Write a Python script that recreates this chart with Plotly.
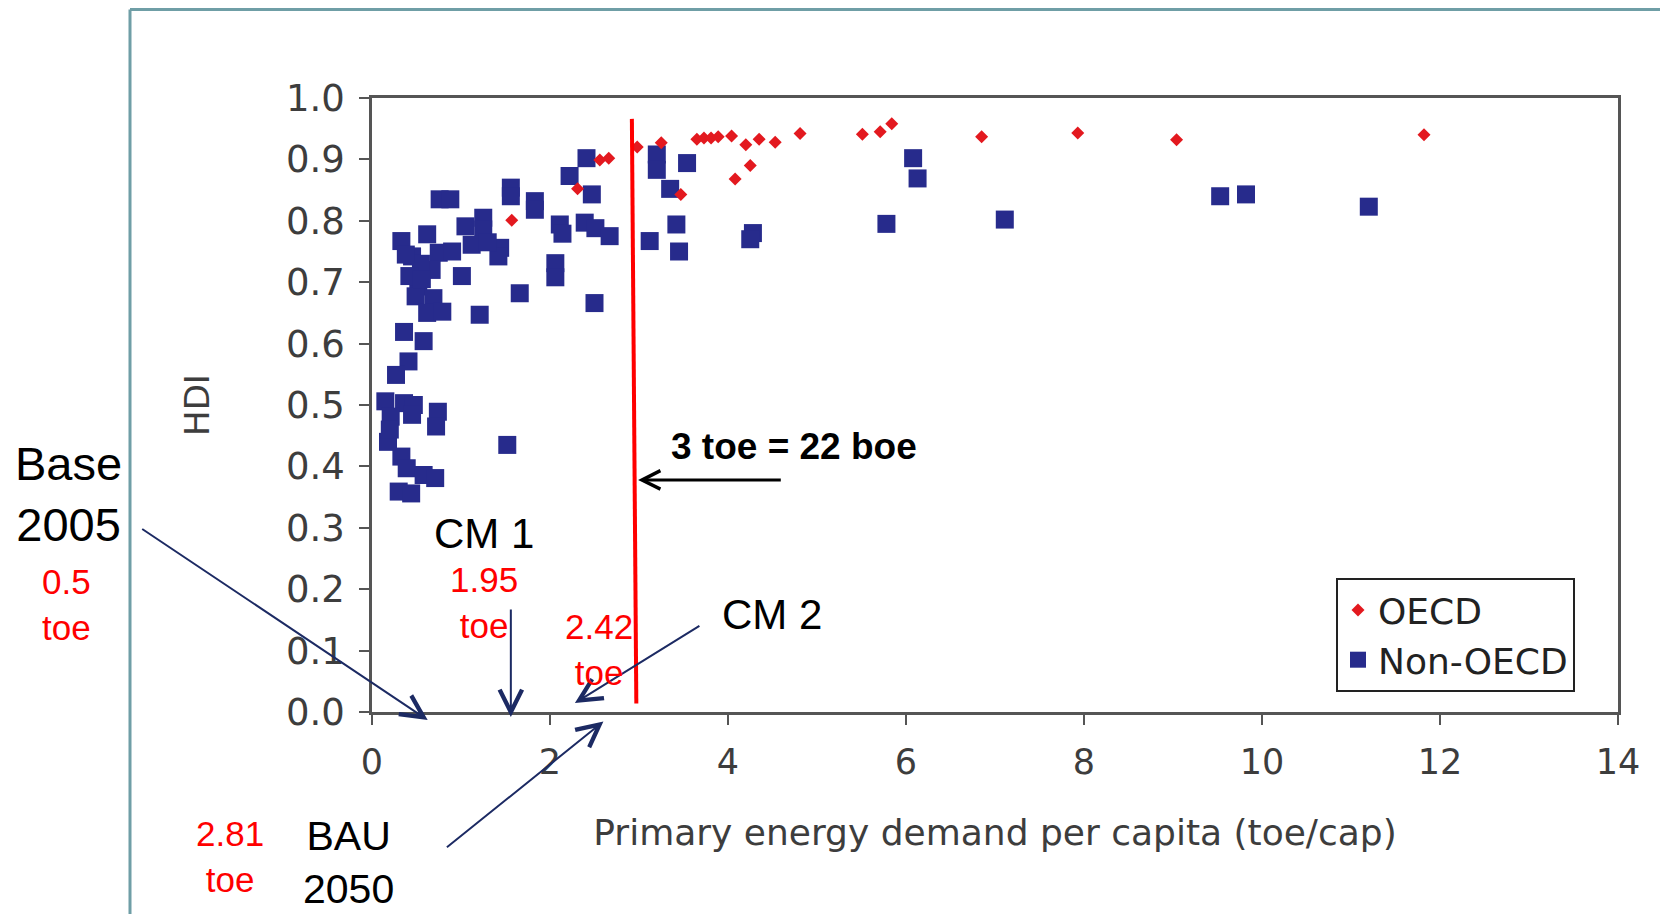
import plotly.graph_objects as go

# ---------------- data ----------------
oecd_x = [1.57, 2.31, 2.56, 2.66, 2.98, 3.25, 3.47, 3.65, 3.73, 3.81, 3.89, 4.04,
          4.20, 4.35, 4.53, 4.08, 4.25, 4.81, 5.51, 5.71, 5.84, 6.85, 7.93, 9.04, 11.82]
oecd_y = [0.801, 0.852, 0.899, 0.902, 0.920, 0.927, 0.843, 0.933, 0.935, 0.935, 0.937, 0.938,
          0.924, 0.933, 0.928, 0.868, 0.890, 0.942, 0.941, 0.945, 0.958, 0.937, 0.943, 0.932, 0.940]

non_oecd_x = [0.76, 0.88, 1.56, 1.56, 0.33, 0.62, 1.05, 1.25, 1.25, 1.44, 1.42, 0.45,
              0.75, 1.12, 0.90, 0.67, 1.01, 0.52, 0.49, 0.69, 0.62, 0.79, 0.36, 0.58,
              0.41, 1.21, 0.27, 1.66, 0.55, 1.30, 0.42, 0.56, 0.38,
              1.83, 1.83, 2.41, 2.22, 2.47, 2.11, 2.14, 2.39, 2.51, 2.67, 2.06, 2.06, 2.50,
              3.20, 3.20, 3.35, 3.54, 3.42, 3.12, 3.45, 4.28, 4.25, 6.08, 6.13, 5.78, 7.11,
              9.53, 9.82, 11.20,
              0.15, 0.36, 0.47, 0.45, 0.21, 0.74, 0.72, 0.18, 0.33, 0.39, 0.58, 0.71,
              0.30, 0.44, 1.52, 0.20]
non_oecd_y = [0.835, 0.835, 0.854, 0.840, 0.767, 0.778, 0.791, 0.805, 0.786, 0.756, 0.742, 0.742,
              0.748, 0.761, 0.750, 0.720, 0.710, 0.693, 0.677, 0.674, 0.650, 0.652, 0.619, 0.604,
              0.571, 0.647, 0.549, 0.682, 0.730, 0.765, 0.710, 0.705, 0.745,
              0.832, 0.818, 0.902, 0.873, 0.843, 0.794, 0.779, 0.797, 0.788, 0.775, 0.731, 0.708, 0.666,
              0.908, 0.883, 0.852, 0.894, 0.794, 0.767, 0.750, 0.780, 0.770, 0.902, 0.869, 0.795, 0.802,
              0.840, 0.843, 0.823,
              0.506, 0.503, 0.500, 0.484, 0.481, 0.489, 0.465, 0.440, 0.416, 0.397, 0.386, 0.381,
              0.359, 0.356, 0.435, 0.460]

x_tick_vals = [0, 2, 4, 6, 8, 10, 12, 14]
y_tick_vals = [0.0, 0.1, 0.2, 0.3, 0.4, 0.5, 0.6, 0.7, 0.8, 0.9, 1.0]

# the hand-drawn "3 toe" limit line (as drawn in the picture)
limit_line_x = [2.92, 2.97]
limit_line_y = [0.966, 0.014]

# scenario labels and where their arrows point on the x axis
scenario_names = ["Base<br>2005", "CM 1", "CM 2", "BAU<br>2050"]
scenario_values = ["0.5<br>toe", "1.95<br>toe", "2.42<br>toe", "2.81<br>toe"]
arrow_tip_x = [0.626, 1.56, 2.28, 2.60]

# ---------------- layout geometry (page pixels) ----------------
W, H = 1668, 914
OFF = 8  # default page body margin
L, R, T, B = 372, 1618, 98, 712  # plot area on the page


def pxx(p):
    return (p - L) / (R - L)


def pxy(p):
    return (B - p) / (B - T)


AX_FONT = "DejaVu Sans"
TXT_FONT = "Liberation Sans, Arial"
GREY = "#3d3d3d"
NAVY = "#1c2a63"
RED = "#ff0000"

fig = go.Figure()
fig.add_trace(go.Scatter(
    x=non_oecd_x, y=non_oecd_y, mode="markers", name="Non-OECD",
    marker=dict(symbol="square", size=18, color="#272b8c", line=dict(width=0)),
))
fig.add_trace(go.Scatter(
    x=oecd_x, y=oecd_y, mode="markers", name="OECD",
    marker=dict(symbol="diamond", size=10, color="#e3191f", line=dict(width=0)),
))
fig.add_trace(go.Scatter(
    x=limit_line_x, y=limit_line_y, mode="lines", showlegend=False, hoverinfo="skip",
    line=dict(color=RED, width=4),
))

annotations = []
# black arrow + text
annotations.append(dict(
    x=2.99, y=0.378, xref="x", yref="y", ax=4.61, ay=0.378, axref="x", ayref="y",
    showarrow=True, arrowhead=5, arrowsize=1.2, arrowwidth=3, arrowcolor="black", text="",
))
annotations.append(dict(
    x=pxx(794), y=pxy(446), xref="paper", yref="paper", showarrow=False,
    text="<b>3 toe = 22 boe</b>", font=dict(family=TXT_FONT, size=37, color="black"),
    xanchor="center", yanchor="middle",
))

# scenario arrows (tip on x axis, tail offset in pixels)
tip_y_px = [720, 717, 703, 721.5]
tail_off = [(-287, -192), (0, -109), (126, -78), (-158, 127)]
for tx, ty, (ox, oy) in zip(arrow_tip_x, tip_y_px, tail_off):
    annotations.append(dict(
        x=tx, y=pxy(ty), xref="x", yref="paper", ax=ox, ay=oy, axref="pixel", ayref="pixel",
        showarrow=True, arrowhead=5, arrowsize=2.2, arrowwidth=2, arrowcolor=NAVY, text="",
    ))

name_pos = [(68, 494, 47), (484, 533, 42), (772, 614, 42), (348, 862, 41)]
value_pos = [(66, 604), (484, 602), (599, 649), (230, 857)]
for txt, (cx, cy, fs) in zip(scenario_names, name_pos):
    annotations.append(dict(
        x=pxx(cx), y=pxy(cy), xref="paper", yref="paper", showarrow=False, text=txt,
        font=dict(family=TXT_FONT, size=fs, color="black"), xanchor="center", yanchor="middle",
    ))
for txt, (cx, cy) in zip(scenario_values, value_pos):
    annotations.append(dict(
        x=pxx(cx), y=pxy(cy), xref="paper", yref="paper", showarrow=False, text=txt,
        font=dict(family=TXT_FONT, size=35, color=RED), xanchor="center", yanchor="middle",
    ))

FRAME = "#6f9ea6"
shapes = [
    dict(type="line", xref="paper", yref="paper", x0=pxx(130), x1=pxx(130), y0=pxy(9.5), y1=pxy(H + 20),
         line=dict(color=FRAME, width=3)),
    dict(type="line", xref="paper", yref="paper", x0=pxx(130), x1=pxx(W + 20), y0=pxy(9.5), y1=pxy(9.5),
         line=dict(color=FRAME, width=3)),
]

fig.update_layout(
    width=W - OFF, height=H - OFF,
    margin=dict(l=L - OFF, r=W - R, t=T - OFF, b=H - B, pad=0),
    paper_bgcolor="white", plot_bgcolor="white",
    showlegend=True,
    legend=dict(
        x=pxx(1336), y=pxy(578), xanchor="left", yanchor="top",
        traceorder="reversed", bordercolor="#222", borderwidth=2, bgcolor="white",
        font=dict(family=AX_FONT, size=36, color="#222"),
    ),
    annotations=annotations,
    shapes=shapes,
    xaxis=dict(
        range=[0, 14], tickvals=x_tick_vals, ticktext=[str(v) for v in x_tick_vals],
        showline=True, mirror=True, linecolor="#555", linewidth=2.5,
        ticks="outside", ticklen=10, tickwidth=2, tickcolor="#555", ticklabelstandoff=7,
        showgrid=False, zeroline=False,
        tickfont=dict(family=AX_FONT, size=35, color=GREY),
        title=dict(text="Primary energy demand per capita (toe/cap)", standoff=40,
                   font=dict(family=AX_FONT, size=36, color=GREY)),
    ),
    yaxis=dict(
        range=[0, 1], tickvals=y_tick_vals, ticktext=["%.1f" % v for v in y_tick_vals],
        showline=True, mirror=True, linecolor="#555", linewidth=2.5,
        ticks="outside", ticklen=10, tickwidth=2, tickcolor="#555", ticklabelstandoff=7,
        showgrid=False, zeroline=False,
        tickfont=dict(family=AX_FONT, size=37, color=GREY),
        title=dict(text="HDI", standoff=67, font=dict(family=AX_FONT, size=34, color=GREY)),
    ),
)

fig.write_html("out.html")
